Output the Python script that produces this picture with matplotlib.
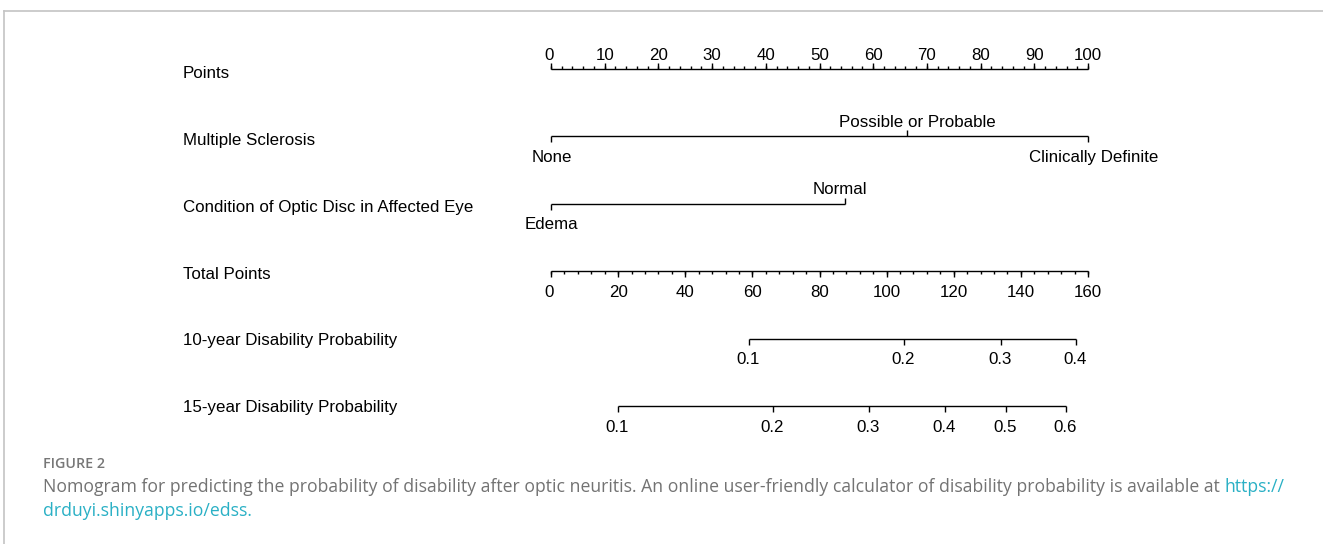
import numpy as np
import matplotlib
matplotlib.use("Agg")
import matplotlib.pyplot as plt
from matplotlib.lines import Line2D
from matplotlib.transforms import blended_transform_factory

# --- data -----------------------------------------------------------------
row_names = ["Points", "Multiple Sclerosis", "Condition of Optic Disc in Affected Eye",
             "Total Points", "10-year Disability Probability", "15-year Disability Probability"]

points_major = np.arange(0, 101, 10)
points_minor = np.arange(0, 101, 2)

ms_levels = ["None", "Possible or Probable", "Clinically Definite"]
ms_points = [0, 66.3, 100]

disc_levels = ["Edema", "Normal"]
disc_points = [0, 54.7]

total_major = np.arange(0, 161, 20)
total_minor = np.arange(0, 161, 4)

prob10_labels = ["0.1", "0.2", "0.3", "0.4"]
prob10_total = [59.0, 105.2, 134.1, 156.4]

prob15_labels = ["0.1", "0.2", "0.3", "0.4", "0.5", "0.6"]
prob15_total = [20.0, 66.1, 94.8, 117.4, 135.6, 153.5]

caption_head = "FIGURE 2"
caption_text = ("Nomogram for predicting the probability of disability after optic neuritis. "
                "An online user-friendly calculator of disability probability is available at ")
caption_link = ["https://", "drduyi.shinyapps.io/edss."]

# --- layout ---------------------------------------------------------------
W, H = 1323, 544
plt.rcParams['font.family'] = ['Liberation Sans', 'DejaVu Sans']
fig = plt.figure(figsize=(W / 100, H / 100), dpi=100)

row_px = 67.4          # pixels between rows
top_row_px = 69        # pixel y of first row line
x0_px, x1_px = 551, 1088
y_top = top_row_px - row_px / 2
y_bot = top_row_px + row_px * 5.5
ax = fig.add_axes([x0_px / W, 1 - y_bot / H, (x1_px - x0_px) / W, (y_bot - y_top) / H])
ax.set_xlim(0, 100)
ax.set_ylim(5.5, -0.5)
ax.axis("off")

LW = 1.0
FS = 12.2
MAJ = 6 / row_px
MIN = 3 / row_px
tp_scale = 100 / 160   # total points -> points axis
title_dy = [4.5, 4, 4, 3, 1.5, 1.5]   # px, row title below its line


def hline(row, xa, xb):
    ax.plot([xa, xb], [row, row], color="black", lw=LW, solid_capstyle="butt", clip_on=False)


def ticks(row, xs, length, up):
    sign = -1 if up else 1
    ax.vlines(xs, row, row + sign * length, color="black", lw=LW, clip_on=False)


def label(row, x, txt, up, dx=0):
    ax.annotate(txt, xy=(x, row), xytext=(dx, 14 if up else -21), textcoords="offset pixels",
                ha="center", va="center", fontsize=FS, annotation_clip=False)


# row titles
trans = blended_transform_factory(fig.transFigure, ax.transData)
for i, name in enumerate(row_names):
    ax.text(183 / W, i + title_dy[i] / row_px, name, transform=trans, ha="left", va="center",
            fontsize=FS)

# Points
hline(0, points_major[0], points_major[-1])
ticks(0, points_minor, MIN, up=True)
ticks(0, points_major, MAJ, up=True)
for v in points_major:
    label(0, v, str(v), up=True, dx=-2 if v == 0 else 0)

# Multiple Sclerosis
ms_dx = [1, 10, 6]
hline(1, min(ms_points), max(ms_points))
for i, (lev, p) in enumerate(zip(ms_levels, ms_points)):
    up = i % 2 == 1
    ticks(1, [p], MAJ, up=up)
    label(1, p, lev, up=up, dx=ms_dx[i])

# Optic disc
disc_dx = [0, -5]
hline(2, min(disc_points), max(disc_points))
for i, (lev, p) in enumerate(zip(disc_levels, disc_points)):
    up = i % 2 == 1
    ticks(2, [p], MAJ, up=up)
    label(2, p, lev, up=up, dx=disc_dx[i])

# Total points
hline(3, total_major[0] * tp_scale, total_major[-1] * tp_scale)
ticks(3, total_minor * tp_scale, MIN, up=False)
ticks(3, total_major * tp_scale, MAJ, up=False)
for v in total_major:
    label(3, v * tp_scale, str(v), up=False, dx=-2 if v == 0 else 0)

# probability scales
for row, labs, tps in [(4, prob10_labels, prob10_total), (5, prob15_labels, prob15_total)]:
    xs = np.array(tps) * tp_scale
    hline(row, xs.min(), xs.max())
    ticks(row, xs, MAJ, up=False)
    for lab, x in zip(labs, xs):
        label(row, x, lab, up=False, dx=-1)

# --- frame and caption ----------------------------------------------------
frame_col = "#c4c4c4"
fig.add_artist(Line2D([4 / W, 1], [1 - 11 / H, 1 - 11 / H], color=frame_col, lw=1.2))
fig.add_artist(Line2D([4 / W, 4 / W], [0, 1 - 11 / H], color=frame_col, lw=1.2))

cap_font = ["Open Sans", "DejaVu Sans"]
gray = "#737373"
link = "#2ab0c5"
CFS = 12.7
fig.text(43 / W, 1 - 464 / H, caption_head, fontsize=10.3, color="#777777", fontweight="semibold",
         family=cap_font, va="center", ha="left")
t1 = fig.text(43 / W, 1 - 487 / H, caption_text, fontsize=CFS, color=gray, family=cap_font,
              va="center", ha="left")
fig.canvas.draw()
bb = t1.get_window_extent()
fig.text(bb.x1 / W, 1 - 487 / H, caption_link[0], fontsize=CFS, color=link, family=cap_font,
         va="center", ha="left")
fig.text(43 / W, 1 - 511 / H, caption_link[1], fontsize=CFS, color=link, family=cap_font,
         va="center", ha="left")

fig.savefig("out.png", dpi=100)
